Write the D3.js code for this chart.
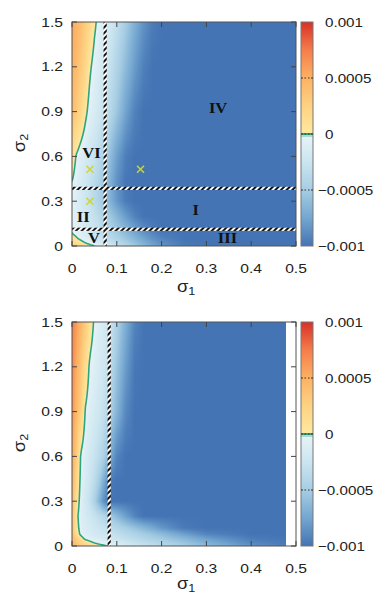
<!DOCTYPE html>
<html>
<head>
<meta charset="utf-8">
<script src="https://cdn.jsdelivr.net/npm/d3@7"></script>
<style>
body { margin: 0; background: #fff; }
</style>
</head>
<body>
<div id="chart"></div>
<script>
// grid nodes
var sigma1 = [0, 0.01, 0.02, 0.03, 0.04, 0.05, 0.06, 0.07, 0.08, 0.09, 0.10,
              0.12, 0.14, 0.16, 0.18, 0.20, 0.25, 0.30, 0.40, 0.50];
var sigma2 = [0, 0.02, 0.05, 0.08, 0.12, 0.2, 0.3, 0.43, 0.6, 0.9, 1.2, 1.5];

// field values in units of 1e-3, one row per sigma2 (bottom to top)
var fieldTop = [
  [0.30, 0.25, 0.19, 0.13, 0.06, 0.005, -0.05, -0.10, -0.16, -0.22, -0.28, -0.40, -0.52, -0.64, -0.75, -0.84, -0.97, -1, -1, -1],
  [0.20, 0.13, 0.06, 0.00, -0.06, -0.11, -0.16, -0.21, -0.26, -0.31, -0.36, -0.47, -0.58, -0.69, -0.79, -0.87, -0.98, -1, -1, -1],
  [0.08, 0.02, -0.04, -0.09, -0.14, -0.19, -0.24, -0.29, -0.34, -0.39, -0.44, -0.55, -0.66, -0.76, -0.85, -0.92, -1, -1, -1, -1],
  [0.01, -0.04, -0.09, -0.14, -0.19, -0.24, -0.29, -0.34, -0.39, -0.44, -0.50, -0.61, -0.72, -0.82, -0.90, -0.96, -1, -1, -1, -1],
  [-0.03, -0.07, -0.11, -0.16, -0.21, -0.26, -0.31, -0.37, -0.43, -0.49, -0.55, -0.67, -0.79, -0.89, -0.96, -1, -1, -1, -1, -1],
  [-0.05, -0.09, -0.14, -0.19, -0.24, -0.30, -0.36, -0.43, -0.50, -0.57, -0.65, -0.80, -0.93, -1, -1, -1, -1, -1, -1, -1],
  [-0.05, -0.11, -0.17, -0.23, -0.30, -0.37, -0.45, -0.53, -0.62, -0.72, -0.82, -0.96, -1, -1, -1, -1, -1, -1, -1, -1],
  [0.00, -0.08, -0.15, -0.22, -0.29, -0.36, -0.44, -0.53, -0.63, -0.74, -0.85, -0.99, -1, -1, -1, -1, -1, -1, -1, -1],
  [0.12, -0.02, -0.10, -0.16, -0.22, -0.28, -0.35, -0.44, -0.54, -0.66, -0.78, -0.95, -1, -1, -1, -1, -1, -1, -1, -1],
  [0.42, 0.32, 0.20, 0.05, -0.08, -0.14, -0.20, -0.27, -0.35, -0.44, -0.54, -0.76, -0.93, -1, -1, -1, -1, -1, -1, -1],
  [0.50, 0.42, 0.32, 0.20, 0.03, -0.07, -0.13, -0.19, -0.26, -0.34, -0.43, -0.62, -0.80, -0.94, -1, -1, -1, -1, -1, -1],
  [0.55, 0.48, 0.40, 0.30, 0.18, 0.04, -0.06, -0.11, -0.17, -0.24, -0.32, -0.50, -0.69, -0.85, -0.96, -1, -1, -1, -1, -1]
];
var fieldBottom = [
  [0.45, 0.38, 0.30, 0.24, 0.18, 0.12, 0.07, 0.03, 0.00, -0.04, -0.08, -0.15, -0.21, -0.27, -0.32, -0.37, -0.50, -0.62, -0.85, -0.98],
  [0.45, 0.35, 0.25, 0.15, 0.06, 0.00, -0.04, -0.07, -0.10, -0.13, -0.16, -0.22, -0.28, -0.33, -0.38, -0.43, -0.55, -0.68, -0.90, -1],
  [0.45, 0.28, 0.08, -0.05, -0.09, -0.12, -0.15, -0.18, -0.21, -0.24, -0.27, -0.32, -0.37, -0.42, -0.47, -0.52, -0.65, -0.78, -0.96, -1],
  [0.40, 0.12, -0.05, -0.10, -0.14, -0.17, -0.20, -0.23, -0.26, -0.29, -0.32, -0.38, -0.44, -0.50, -0.56, -0.62, -0.78, -0.92, -1, -1],
  [0.40, 0.08, -0.08, -0.13, -0.17, -0.21, -0.25, -0.29, -0.33, -0.37, -0.41, -0.49, -0.57, -0.65, -0.73, -0.82, -0.97, -1, -1, -1],
  [0.40, 0.05, -0.10, -0.16, -0.22, -0.28, -0.34, -0.40, -0.47, -0.55, -0.63, -0.78, -0.92, -1, -1, -1, -1, -1, -1, -1],
  [0.45, 0.12, -0.08, -0.20, -0.30, -0.45, -0.65, -0.85, -0.97, -1, -1, -1, -1, -1, -1, -1, -1, -1, -1, -1],
  [0.50, 0.20, -0.06, -0.16, -0.25, -0.35, -0.50, -0.70, -0.88, -0.98, -1, -1, -1, -1, -1, -1, -1, -1, -1, -1],
  [0.55, 0.30, -0.03, -0.12, -0.20, -0.27, -0.35, -0.45, -0.60, -0.78, -0.92, -1, -1, -1, -1, -1, -1, -1, -1, -1],
  [0.65, 0.45, 0.25, -0.02, -0.10, -0.16, -0.22, -0.30, -0.40, -0.52, -0.66, -0.90, -1, -1, -1, -1, -1, -1, -1, -1],
  [0.70, 0.52, 0.35, 0.15, -0.04, -0.10, -0.16, -0.22, -0.30, -0.42, -0.56, -0.80, -0.98, -1, -1, -1, -1, -1, -1, -1],
  [0.75, 0.60, 0.45, 0.30, 0.12, -0.03, -0.10, -0.16, -0.22, -0.32, -0.45, -0.70, -0.92, -1, -1, -1, -1, -1, -1, -1]
];

var xTicks = [0, 0.1, 0.2, 0.3, 0.4, 0.5];
var yTicks = [0, 0.3, 0.6, 0.9, 1.2, 1.5];
var cbTicks = [-1, -0.5, 0, 0.5, 1];
var cbLabels = ["\u22120.001", "\u22120.0005", "0", "0.0005", "0.001"];
var cbStops = [-1, -0.75, -0.5, -0.25, -0.001, 0.001, 0.25, 0.5, 0.75, 1];
var cbColors = ["#4474b4", "#74a6d0", "#a6cde3", "#cbe5f0", "#e8f4f8",
                "#fee99f", "#fed283", "#fdb163", "#f57d4a", "#d73027"];

var regionNames = ["IV", "VI", "II", "I", "V", "III"];
var regionS1 = [0.326, 0.0435, 0.025, 0.276, 0.049, 0.347];
var regionS2 = [0.924, 0.626, 0.198, 0.241, 0.054, 0.054];
var crossS1 = [0.040, 0.153, 0.040];
var crossS2 = [0.514, 0.514, 0.300];
var cutTopS1 = 0.074, cutTopS2 = [0.386, 0.112];
var cutBottomS1 = 0.083;
var bottomMaxS1 = 0.478;

var width = 376, height = 594;
var svg = d3.select("#chart").append("svg")
    .attr("width", width).attr("height", height);
var defs = svg.append("defs");
var pat = defs.append("pattern").attr("id", "hatch")
    .attr("width", 4).attr("height", 4)
    .attr("patternUnits", "userSpaceOnUse")
    .attr("patternTransform", "rotate(45)");
pat.append("rect").attr("width", 4).attr("height", 4).attr("fill", "#fff");
pat.append("rect").attr("width", 2).attr("height", 4).attr("fill", "#111");

var color = d3.scaleLinear().domain(cbStops).range(cbColors).clamp(true);
var teal = "#2ea57f";
var sx = 1.2; // labels look horizontally stretched

function bilinear(grid, a, b) {
  var i = Math.max(0, Math.min(sigma1.length - 2, d3.bisectRight(sigma1, a) - 1));
  var j = Math.max(0, Math.min(sigma2.length - 2, d3.bisectRight(sigma2, b) - 1));
  var tx = Math.max(0, Math.min(1, (a - sigma1[i]) / (sigma1[i + 1] - sigma1[i])));
  var ty = Math.max(0, Math.min(1, (b - sigma2[j]) / (sigma2[j + 1] - sigma2[j])));
  return grid[j][i] * (1 - tx) * (1 - ty) + grid[j][i + 1] * tx * (1 - ty)
       + grid[j + 1][i] * (1 - tx) * ty + grid[j + 1][i + 1] * tx * ty;
}

function label(g, x, y, s, anchor, size) {
  return g.append("text")
    .attr("transform", "translate(" + x + "," + y + ") scale(" + sx + ",1)")
    .attr("text-anchor", anchor)
    .attr("dominant-baseline", "central")
    .style("font-family", "'Liberation Sans', Arial, sans-serif")
    .style("font-size", size + "px")
    .style("fill", "#222")
    .text(s);
}

function drawPanel(field, top, maxS1, id, isTop) {
  var x = d3.scaleLinear().domain([0, 0.5]).range([72, 296]);
  var y = d3.scaleLinear().domain([0, 1.5]).range([top + 224, top]);
  var pw = 224, ph = 224;
  var g = svg.append("g");

  defs.append("clipPath").attr("id", "clip" + id)
    .append("rect").attr("x", 72).attr("y", top).attr("width", pw).attr("height", ph);

  // heat map
  var canvas = document.createElement("canvas");
  canvas.width = pw; canvas.height = ph;
  var ctx = canvas.getContext("2d");
  var img = ctx.createImageData(pw, ph);
  for (var r = 0; r < ph; r++) {
    for (var c = 0; c < pw; c++) {
      var a = x.invert(72 + c + 0.5), b = y.invert(top + r + 0.5);
      var k = (r * pw + c) * 4;
      if (a > maxS1) { img.data[k + 3] = 0; continue; }
      var col = d3.rgb(color(bilinear(field, a, b)));
      img.data[k] = col.r; img.data[k + 1] = col.g; img.data[k + 2] = col.b; img.data[k + 3] = 255;
    }
  }
  ctx.putImageData(img, 0, 0);
  g.append("image").attr("x", 72).attr("y", top)
    .attr("width", pw).attr("height", ph)
    .attr("href", canvas.toDataURL());

  // zero contour
  var pad = 3, cw = pw + 2 * pad, chh = ph + 2 * pad, vals = new Array(cw * chh);
  for (var r2 = 0; r2 < chh; r2++) {
    for (var c2 = 0; c2 < cw; c2++) {
      var a2 = Math.max(0, Math.min(maxS1, x.invert(72 - pad + c2 + 0.5)));
      var b2 = Math.max(0, Math.min(1.5, y.invert(top - pad + r2 + 0.5)));
      vals[r2 * cw + c2] = bilinear(field, a2, b2);
    }
  }
  var cont = d3.contours().size([cw, chh]).thresholds([0])(vals);
  g.append("g").attr("clip-path", "url(#clip" + id + ")")
    .append("path")
    .attr("transform", "translate(" + (72 - pad) + "," + (top - pad) + ")")
    .attr("d", d3.geoPath()(cont[0]))
    .attr("fill", "none").attr("stroke", teal).attr("stroke-width", 1.6);

  // hatched cut lines
  var hw = 3.2;
  var cutS1 = isTop ? cutTopS1 : cutBottomS1;
  g.append("rect").attr("x", x(cutS1) - hw / 2).attr("y", top)
    .attr("width", hw).attr("height", ph).attr("fill", "url(#hatch)");
  if (isTop) {
    g.selectAll(".hcut").data(cutTopS2).enter().append("rect")
      .attr("x", 72).attr("y", function(d) { return y(d) - hw / 2; })
      .attr("width", pw).attr("height", hw).attr("fill", "url(#hatch)");

    crossS1.forEach(function(d, i) {
      var cx = x(d), cy = y(crossS2[i]), s = 3.5;
      g.append("path")
        .attr("d", "M" + (cx - s) + "," + (cy - s) + "L" + (cx + s) + "," + (cy + s) +
                   "M" + (cx - s) + "," + (cy + s) + "L" + (cx + s) + "," + (cy - s))
        .attr("stroke", "#cdd43a").attr("stroke-width", 1.5);
    });

    regionNames.forEach(function(d, i) {
      g.append("text")
        .attr("transform", "translate(" + x(regionS1[i]) + "," + y(regionS2[i]) + ") scale(1.1,1)")
        .attr("text-anchor", "middle").attr("dominant-baseline", "central")
        .style("font-family", "'Liberation Serif', 'Times New Roman', serif")
        .style("font-weight", "bold").style("font-size", "15px")
        .style("fill", "#111").text(d);
    });
  }

  // frame and ticks
  g.append("rect").attr("x", 72).attr("y", top).attr("width", pw).attr("height", ph)
    .attr("fill", "none").attr("stroke", "#555").attr("stroke-width", 1);
  xTicks.forEach(function(t) {
    var px = x(t);
    g.append("line").attr("x1", px).attr("x2", px).attr("y1", top + ph).attr("y2", top + ph - 5)
      .attr("stroke", "#444");
    g.append("line").attr("x1", px).attr("x2", px).attr("y1", top).attr("y2", top + 5)
      .attr("stroke", "#444");
    label(g, px, top + ph + 22, d3.format("")(t), "middle", 13);
  });
  yTicks.forEach(function(t) {
    var py = y(t);
    g.append("line").attr("x1", 72).attr("x2", 77).attr("y1", py).attr("y2", py).attr("stroke", "#444");
    g.append("line").attr("x1", 296).attr("x2", 291).attr("y1", py).attr("y2", py).attr("stroke", "#444");
    label(g, 63, py, t === 0 ? "0" : d3.format(".1f")(t), "end", 13);
  });

  // axis titles
  var t1 = g.append("text")
    .attr("transform", "translate(177," + (top + ph + (isTop ? 46 : 43)) + ") scale(1.15,1)")
    .style("font-family", "'Liberation Sans', Arial, sans-serif")
    .style("font-size", "16px").style("fill", "#222");
  t1.append("tspan").text("\u03c3");
  t1.append("tspan").attr("dy", 3).style("font-size", "11px").text("1");
  var t2 = g.append("text")
    .attr("transform", "translate(25," + (top + 121) + ") rotate(-90) scale(1.15,1)")
    .attr("text-anchor", "middle")
    .style("font-family", "'Liberation Sans', Arial, sans-serif")
    .style("font-size", "16px").style("fill", "#222");
  t2.append("tspan").text("\u03c3");
  t2.append("tspan").attr("dy", 3).style("font-size", "11px").text("2");

  // colour bar
  var cb = d3.scaleLinear().domain([-1, 1]).range([top + ph, top]);
  var gid = "grad" + id;
  var grad = defs.append("linearGradient").attr("id", gid)
    .attr("x1", 0).attr("y1", 1).attr("x2", 0).attr("y2", 0);
  cbStops.forEach(function(v, i) {
    grad.append("stop").attr("offset", (v + 1) / 2).attr("stop-color", cbColors[i]);
  });
  g.append("rect").attr("x", 301).attr("y", top).attr("width", 12).attr("height", ph)
    .attr("fill", "url(#" + gid + ")");
  g.append("rect").attr("x", 301).attr("y", cb(0)).attr("width", 12).attr("height", 3)
    .attr("fill", "#a9dcd0");
  g.append("line").attr("x1", 301).attr("x2", 313).attr("y1", cb(0)).attr("y2", cb(0))
    .attr("stroke", teal).attr("stroke-width", 2);
  g.append("rect").attr("x", 301).attr("y", top).attr("width", 12).attr("height", ph)
    .attr("fill", "none").attr("stroke", "#777").attr("stroke-width", 1);
  cbTicks.forEach(function(t, i) {
    var py = cb(t);
    if (t > -1 && t < 1) {
      g.append("line").attr("x1", 301).attr("x2", 306).attr("y1", py).attr("y2", py)
        .attr("stroke", "#333").attr("stroke-dasharray", "2,1.5");
      g.append("line").attr("x1", 313).attr("x2", 308).attr("y1", py).attr("y2", py)
        .attr("stroke", "#333").attr("stroke-dasharray", "2,1.5");
    }
    var lx = t < 0 ? 318 : 325;
    g.append("text")
      .attr("transform", "translate(" + lx + "," + py + ") scale(1.17,1)")
      .attr("dominant-baseline", "central")
      .style("font-family", "'Liberation Sans', Arial, sans-serif")
      .style("font-size", "13px").style("fill", "#222")
      .text(cbLabels[i]);
  });
}

drawPanel(fieldTop, 22, 0.5, "a", true);
drawPanel(fieldBottom, 322, bottomMaxS1, "b", false);
</script>
</body>
</html>
